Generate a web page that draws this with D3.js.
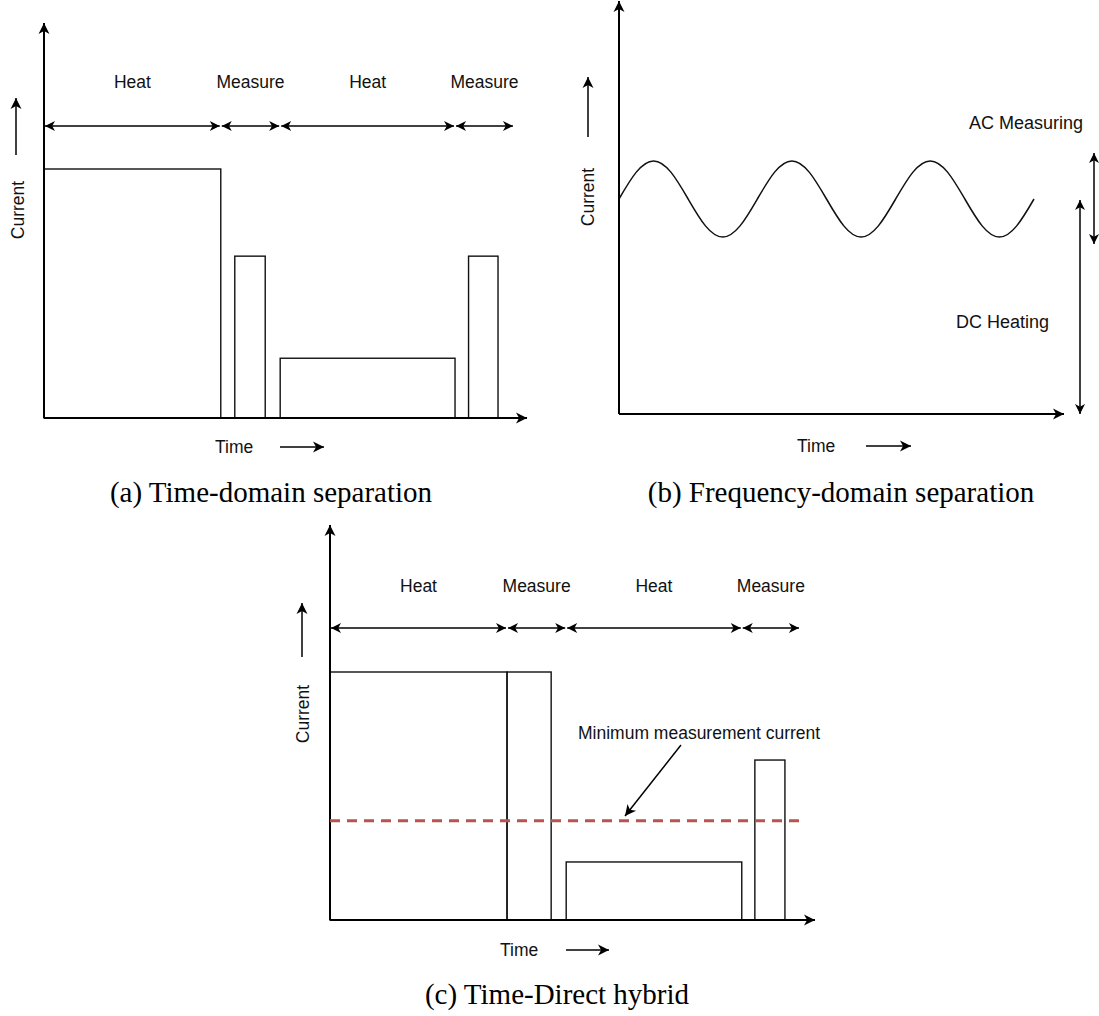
<!DOCTYPE html>
<html><head><meta charset="utf-8">
<script src="https://cdn.jsdelivr.net/npm/d3@7"></script>
<style>html,body{margin:0;padding:0;background:#fff}</style>
</head><body>
<svg id="chart" width="1099" height="1016"></svg>
<script>
// ---------------- data ----------------
const phaseLabels = ["Heat", "Measure", "Heat", "Measure"];

// Panel (a): time-domain separation (time 0-100, current relative to heat level)
const phaseBoundsA = [0, 36.6, 48.9, 85.1, 97.3];
const pulseStartA  = [0, 39.5, 48.9, 87.9];
const pulseEndA    = [36.6, 45.8, 85.1, 94.0];
const pulseLevelA  = [1.0, 0.65, 0.24, 0.65];

// Panel (c): time-direct hybrid
const phaseBoundsC = [0, 36.5, 48.7, 84.9, 96.9];
const pulseStartC  = [0, 36.5, 48.7, 87.6];
const pulseEndC    = [36.5, 45.6, 84.9, 93.8];
const pulseLevelC  = [1.0, 1.0, 0.234, 0.645];
const minMeasureLevel = 0.40;

// Panel (b): frequency-domain separation (time in AC periods, current relative to DC level)
const waveTime  = [0, 0.125, 0.25, 0.375, 0.5, 0.625, 0.75, 0.875,
                   1, 1.125, 1.25, 1.375, 1.5, 1.625, 1.75, 1.875,
                   2, 2.125, 2.25, 2.375, 2.5, 2.625, 2.75, 2.875, 3];
const waveValue = [1, 1.125, 1.177, 1.125, 1, 0.875, 0.823, 0.875,
                   1, 1.125, 1.177, 1.125, 1, 0.875, 0.823, 0.875,
                   1, 1.125, 1.177, 1.125, 1, 0.875, 0.823, 0.875, 1];
const acRange = [0.791, 1.214];
const dcRange = [0, 0.995];

const captions = ["(a) Time-domain separation", "(b) Frequency-domain separation", "(c) Time-Direct hybrid"];

// ---------------- layout ----------------
const SANS = "'Liberation Sans', Arial, Helvetica, sans-serif";
const SERIF = "'Liberation Serif', 'Times New Roman', serif";
const FS = 17.5;

const svg = d3.select("#chart");
svg.append("rect").attr("width", 1099).attr("height", 1016).attr("fill", "#fff");

const defs = svg.append("defs");
function marker(id, len, half) {
  defs.append("marker")
    .attr("id", id)
    .attr("markerUnits", "userSpaceOnUse")
    .attr("viewBox", `${-len - 1} ${-half - 1} ${len + 2} ${half * 2 + 2}`)
    .attr("markerWidth", len + 2).attr("markerHeight", half * 2 + 2)
    .attr("refX", 0).attr("refY", 0)
    .attr("orient", "auto-start-reverse")
    .append("path")
    .attr("d", `M0,0 L${-len},${-half} L${-len * 0.72},0 L${-len},${half} Z`)
    .attr("fill", "#000");
}
marker("ah", 11, 5.5);
marker("ahs", 10, 5);

function arrowLine(g, x1, y1, x2, y2, opts = {}) {
  const l = g.append("line")
    .attr("x1", x1).attr("y1", y1).attr("x2", x2).attr("y2", y2)
    .attr("stroke", "#000").attr("stroke-width", opts.w || 1.5)
    .attr("marker-end", `url(#${opts.m || "ah"})`);
  if (opts.both) l.attr("marker-start", `url(#${opts.m || "ah"})`);
  return l;
}

function text(g, x, y, s, opts = {}) {
  return g.append("text").attr("x", x).attr("y", y).text(s)
    .attr("font-family", opts.family || SANS)
    .attr("font-size", opts.size || FS)
    .attr("fill", opts.fill || "#111")
    .attr("text-anchor", opts.anchor || "middle")
    .attr("dominant-baseline", opts.baseline || "auto");
}

// Generic pulse panel
function pulsePanel(cfg) {
  const g = svg.append("g");
  const x = d3.scaleLinear().domain([0, 100]).range([cfg.x0, cfg.xTip]);
  const y = d3.scaleLinear().domain([0, 1]).range([cfg.y0, cfg.yTop]);

  const pulses = cfg.starts.map((s, i) => ({ s, e: cfg.ends[i], v: cfg.levels[i] }));
  g.selectAll("rect.pulse").data(pulses).enter().append("rect")
    .attr("class", "pulse")
    .attr("x", d => x(d.s)).attr("y", d => y(d.v))
    .attr("width", d => x(d.e) - x(d.s)).attr("height", d => y(0) - y(d.v))
    .attr("fill", "none").attr("stroke", "#111").attr("stroke-width", 1.4);

  arrowLine(g, cfg.x0, cfg.y0, cfg.xTip, cfg.y0, { w: 2 });
  arrowLine(g, cfg.x0, cfg.y0, cfg.x0, cfg.yTip, { w: 2 });

  const b = cfg.bounds;
  for (let i = 0; i < b.length - 1; i++) {
    arrowLine(g, x(b[i]) + 1, cfg.arrowY, x(b[i + 1]) - 1, cfg.arrowY, { both: true, m: "ahs", w: 1.5 });
    text(g, (x(b[i]) + x(b[i + 1])) / 2, cfg.labelY, phaseLabels[i]);
  }

  text(g, cfg.curX, cfg.curY, "Current", { baseline: "central" })
    .attr("transform", `rotate(-90, ${cfg.curX}, ${cfg.curY})`);
  arrowLine(g, cfg.curArrowX, cfg.curArrowBottom, cfg.curArrowX, cfg.curArrowTop, { w: 1.5 });

  text(g, cfg.timeX, cfg.timeY, "Time", { anchor: "start", baseline: "central" });
  arrowLine(g, cfg.timeArrow[0], cfg.timeY, cfg.timeArrow[1], cfg.timeY, { w: 1.5 });

  return { g, x, y };
}

// ---------------- panel (a) ----------------
pulsePanel({
  x0: 44, xTip: 527, y0: 418, yTop: 169, yTip: 23,
  starts: pulseStartA, ends: pulseEndA, levels: pulseLevelA, bounds: phaseBoundsA,
  arrowY: 126, labelY: 88,
  curX: 18, curY: 210, curArrowX: 16, curArrowTop: 98, curArrowBottom: 155,
  timeX: 215, timeY: 447, timeArrow: [280, 324]
});

// ---------------- panel (c) ----------------
const pc = pulsePanel({
  x0: 330, xTip: 815, y0: 920, yTop: 672, yTip: 525,
  starts: pulseStartC, ends: pulseEndC, levels: pulseLevelC, bounds: phaseBoundsC,
  arrowY: 628, labelY: 592,
  curX: 303, curY: 714, curArrowX: 302, curArrowTop: 603, curArrowBottom: 657,
  timeX: 500, timeY: 950, timeArrow: [566, 609]
});
pc.g.append("line")
  .attr("x1", pc.x(0)).attr("x2", pc.x(96.9))
  .attr("y1", pc.y(minMeasureLevel)).attr("y2", pc.y(minMeasureLevel))
  .attr("stroke", "#b85450").attr("stroke-width", 3).attr("stroke-dasharray", "10,7");
text(pc.g, 578, 739, "Minimum measurement current", { anchor: "start" });
arrowLine(pc.g, 681, 745, 625, 816, { w: 1.5 });

// ---------------- panel (b) ----------------
{
  const g = svg.append("g");
  const x = d3.scaleLinear().domain([0, 3]).range([619, 1034]);
  const y = d3.scaleLinear().domain([0, 1]).range([414, 199]);
  const pts = waveTime.map((t, i) => [t, waveValue[i]]);
  g.append("path").datum(pts)
    .attr("d", d3.line().x(d => x(d[0])).y(d => y(d[1])).curve(d3.curveNatural))
    .attr("fill", "none").attr("stroke", "#111").attr("stroke-width", 1.5);

  arrowLine(g, x(0), y(0), 1064, y(0), { w: 2 });
  arrowLine(g, x(0), y(0), x(0), 1, { w: 2 });

  arrowLine(g, 1094, y(acRange[0]), 1094, y(acRange[1]), { both: true, m: "ahs", w: 1.5 });
  arrowLine(g, 1080, y(dcRange[0]), 1080, y(dcRange[1]), { both: true, m: "ahs", w: 1.5 });
  text(g, 969, 129, "AC Measuring", { anchor: "start", size: 18 });
  text(g, 956, 328, "DC Heating", { anchor: "start", size: 18 });

  text(g, 588, 197, "Current", { baseline: "central" }).attr("transform", "rotate(-90, 588, 197)");
  arrowLine(g, 588, 137, 588, 77, { w: 1.5 });
  text(g, 797, 446, "Time", { anchor: "start", baseline: "central" });
  arrowLine(g, 866, 446, 911, 446, { w: 1.5 });
}

// ---------------- captions ----------------
text(svg, 271, 502, captions[0], { family: SERIF, size: 29, fill: "#000" });
text(svg, 841, 502, captions[1], { family: SERIF, size: 29, fill: "#000" });
text(svg, 557, 1004, captions[2], { family: SERIF, size: 29, fill: "#000" });
</script>
</body></html>
